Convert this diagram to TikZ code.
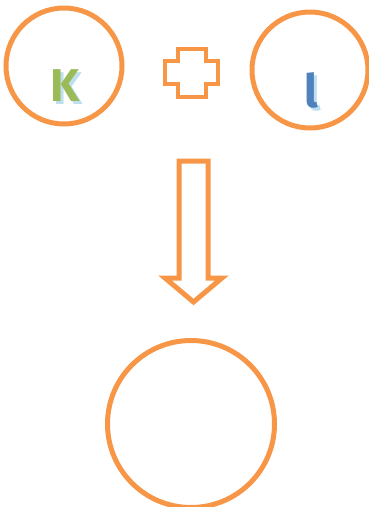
\documentclass[tikz,border=0pt]{standalone}
\usepackage{fontspec}
\setmainfont{Fira Sans}
\usepackage{tikz}
\usetikzlibrary{arrows,positioning}
\definecolor{ringorange}{RGB}{247,150,70}
\definecolor{kgreen}{RGB}{155,187,89}
\definecolor{lblue}{RGB}{79,129,189}
\definecolor{shadowblue}{RGB}{190,224,238}
\newcommand\R{58}

\begin{document}
\begin{tikzpicture}[x=1pt,y=-1pt,line width=5pt,ringorange]

  \tikzstyle{ring}=[circle,draw=ringorange,line width=5pt,inner sep=0pt]
  \tikzstyle{letter}=[font=\fontsize{46}{46}\selectfont\bfseries,inner sep=0pt]

  \useasboundingbox (0,0) rectangle (369,507);

  \node[ring,minimum size=2*\R] (left)  at (64,66)   {};
  \node[ring,minimum size=2*\R] (right) at (310,70)  {};
  \node[ring,minimum size=167]  (sum)   at (191,424) {};

  % letters with their soft shadow
  \node[letter,shadowblue] (Kshadow) at (68,89) {K};
  \node[letter,kgreen]     (K)       at (65,86) {K};
  \node[letter,shadowblue] (Lshadow) at (314,93) {l};
  \node[letter,lblue]      (L)       at (311,90) {l};

  % plus sign
  \draw[line width=4pt,line join=miter]
    (178,49) -- (206,49) -- (206,61) -- (218,61) -- (218,84) -- (206,84)
    -- (206,97) -- (178,97) -- (178,84) -- (165,84) -- (165,61) -- (178,61)
    -- cycle;

  % down arrow
  \draw[line width=5pt,line join=miter]
    (179,161) -- (208,161) -- (208,278) -- (222,278) -- (193.5,302)
    -- (165,278) -- (179,278) -- cycle;

\end{tikzpicture}
\end{document}
